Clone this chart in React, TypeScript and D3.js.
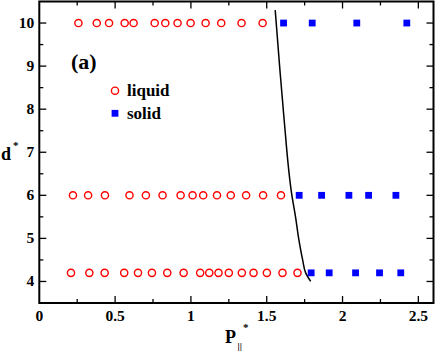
import React from "react";
import * as d3 from "d3";

const liquid10 = [0.258, 0.379, 0.46, 0.563, 0.622, 0.761, 0.831, 0.912, 0.998, 1.097, 1.2, 1.334, 1.473];
const solid10 = [1.611, 1.8, 2.094, 2.424];
const liquid6 = [0.222, 0.322, 0.433, 0.595, 0.703, 0.813, 0.932, 1.011, 1.081, 1.172, 1.263, 1.364, 1.476, 1.594];
const solid6 = [1.714, 1.862, 2.042, 2.172, 2.352];
const liquid42 = [0.209, 0.33, 0.431, 0.56, 0.651, 0.743, 0.844, 0.952, 1.061, 1.121, 1.182, 1.25, 1.336, 1.413, 1.501, 1.604, 1.703];
const solid42 = [1.793, 1.912, 2.086, 2.244, 2.384];
const boundaryP = [1.556, 1.585, 1.615, 1.666, 1.69, 1.712, 1.737, 1.757, 1.79];
const boundaryD = [10.3, 9.0, 7.75, 6.0, 5.5, 4.97, 4.5, 4.2, 4.0];
const xTicks = [0, 0.5, 1, 1.5, 2, 2.5];
const xTickLabels = ["0", "0.5", "1", "1.5", "2", "2.5"];
const yTicks = [4, 5, 6, 7, 8, 9, 10];

export default function App() {
  const L = 39.3, R = 433.5, T = 1.5, B = 303;
  const x = d3.scaleLinear().domain([0, 2.6]).range([L, R]);
  const y = d3.scaleLinear().domain([3.5, 10.5]).range([B, T]);
  const font = "'Liberation Serif', 'Times New Roman', serif";

  const liquid: [number, number][] = [
    ...liquid10.map((p) => [p, 10] as [number, number]),
    ...liquid6.map((p) => [p, 6] as [number, number]),
    ...liquid42.map((p) => [p, 4.2] as [number, number]),
  ];
  const solid: [number, number][] = [
    ...solid10.map((p) => [p, 10] as [number, number]),
    ...solid6.map((p) => [p, 6] as [number, number]),
    ...solid42.map((p) => [p, 4.2] as [number, number]),
  ];
  const line = d3
    .line<number>()
    .x((_, i) => x(boundaryP[i]))
    .y((d) => y(d))
    .curve(d3.curveMonotoneY);

  const xMinor = d3.range(0, 2.6001, 0.25).filter((v) => v > 0 && v < 2.6);
  const yMinor = d3.range(3.5, 10.5001, 0.5).filter((v) => v > 3.5 && v < 10.5);
  const maj = 7, mnr = 4;

  return (
    <svg width={436} height={351} style={{ position: "absolute", left: 0, top: 0 }}>
      <rect x={0} y={0} width={436} height={351} fill="white" />
      {xMinor.map((v) => {
        const isMaj = Math.abs(v * 2 - Math.round(v * 2)) < 1e-6;
        const len = isMaj ? maj : mnr;
        return (
          <g key={"xt" + v}>
            <line x1={x(v)} x2={x(v)} y1={B} y2={B - len} stroke="black" strokeWidth={1.3} />
            <line x1={x(v)} x2={x(v)} y1={T} y2={T + len} stroke="black" strokeWidth={1.3} />
          </g>
        );
      })}
      {yMinor.map((v) => {
        const isMaj = Math.abs(v - Math.round(v)) < 1e-6;
        const len = isMaj ? maj : mnr;
        return (
          <g key={"yt" + v}>
            <line x1={L} x2={L + len} y1={y(v)} y2={y(v)} stroke="black" strokeWidth={1.3} />
            <line x1={R} x2={R - len} y1={y(v)} y2={y(v)} stroke="black" strokeWidth={1.3} />
          </g>
        );
      })}
      <rect x={L} y={T} width={R - L} height={B - T} fill="none" stroke="black" strokeWidth={2} />
      {xTicks.map((v, i) => (
        <text key={"xl" + v} x={x(v)} y={B + 18} textAnchor="middle" fontFamily={font} fontWeight="bold" fontSize={15.5}>
          {xTickLabels[i]}
        </text>
      ))}
      {yTicks.map((v) => (
        <text key={"yl" + v} x={L - 5} y={y(v) + 5} textAnchor="end" fontFamily={font} fontWeight="bold" fontSize={15.5}>
          {v}
        </text>
      ))}
      <text x={1} y={160} fontFamily={font} fontWeight="bold" fontSize={18}>d</text>
      <text x={13} y={149} fontFamily={font} fontWeight="bold" fontSize={11}>*</text>
      <text x={225} y={343} fontFamily={font} fontWeight="bold" fontSize={18}>P</text>
      <text x={237.5} y={350} fontFamily={font} fontWeight="bold" fontSize={10}>||</text>
      <text x={243} y={331} fontFamily={font} fontWeight="bold" fontSize={11}>*</text>
      <path d={line(boundaryD) || ""} fill="none" stroke="black" strokeWidth={1.5} />
      {liquid.map(([p, d], i) => (
        <circle key={"l" + i} cx={x(p)} cy={y(d)} r={3.6} fill="none" stroke="#ff0000" strokeWidth={1.4} />
      ))}
      {solid.map(([p, d], i) => (
        <rect key={"s" + i} x={x(p) - 3.4} y={y(d) - 3.4} width={6.8} height={6.8} fill="#0000ff" />
      ))}
      <text x={71} y={68.5} fontFamily={font} fontWeight="bold" fontSize={22}>(a)</text>
      <circle cx={115} cy={90.7} r={3.6} fill="none" stroke="#ff0000" strokeWidth={1.4} />
      <text x={127} y={96} fontFamily={font} fontWeight="bold" fontSize={17}>liquid</text>
      <rect x={115 - 3.4} y={113.3 - 3.4} width={6.8} height={6.8} fill="#0000ff" />
      <text x={127} y={118.5} fontFamily={font} fontWeight="bold" fontSize={17}>solid</text>
    </svg>
  );
}
